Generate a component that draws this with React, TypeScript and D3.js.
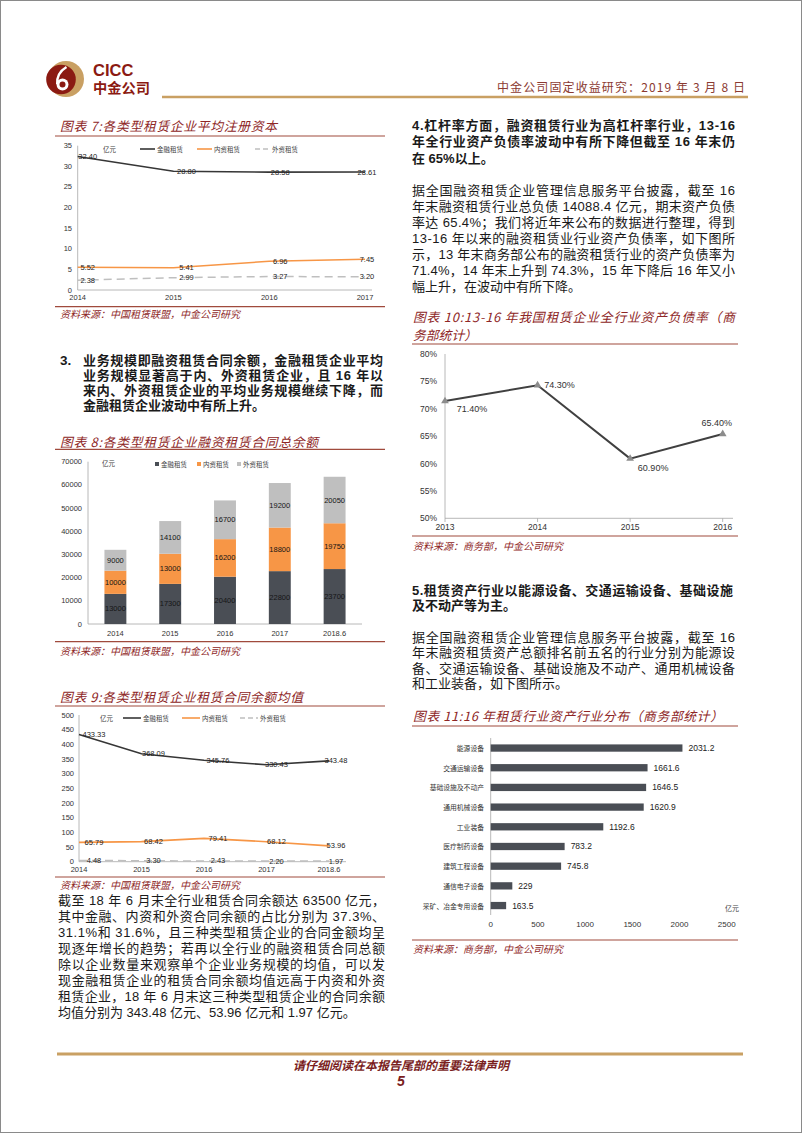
import React from 'react';
import * as d3 from 'd3';

// ---------------- data ----------------
const seriesNames = ['金融租赁', '内资租赁', '外资租赁'];

const years7 = ['2014', '2015', '2016', '2017'];
const finance7 = [32.4, 28.8, 28.58, 28.61];
const domestic7 = [5.52, 5.41, 6.96, 7.45];
const foreign7 = [2.38, 2.99, 3.27, 3.2];
const ticks7 = [0, 5, 10, 15, 20, 25, 30, 35];

const periods8 = ['2014', '2015', '2016', '2017', '2018.6'];
const finance8 = [13000, 17300, 20400, 22800, 23700];
const domestic8 = [10000, 13000, 16200, 18800, 19750];
const foreign8 = [9000, 14100, 16700, 19200, 20050];
const ticks8 = [0, 10000, 20000, 30000, 40000, 50000, 60000, 70000];

const periods9 = ['2014', '2015', '2016', '2017', '2018.6'];
const finance9 = [433.33, 368.09, 345.76, 330.43, 343.48];
const domestic9 = [65.79, 68.42, 79.41, 68.12, 53.96];
const foreign9 = [4.48, 3.3, 2.43, 2.2, 1.97];
const ticks9 = [0, 50, 100, 150, 200, 250, 300, 350, 400, 450, 500];

const years10 = ['2013', '2014', '2015', '2016'];
const ratio10 = [71.4, 74.3, 60.9, 65.4];
const ticks10 = [50, 55, 60, 65, 70, 75, 80];

const industries11 = ['能源设备', '交通运输设备', '基础设施及不动产', '通用机械设备', '工业装备', '医疗制药设备', '建筑工程设备', '通信电子设备', '采矿、冶金专用设备'];
const assets11 = [2031.2, 1661.6, 1646.5, 1620.9, 1192.6, 783.2, 745.8, 229, 163.5];
const ticks11 = [0, 500, 1000, 1500, 2000, 2500];

// ---------------- text ----------------
const sec3 = ['业务规模即融资租赁合同余额，金融租赁企业平均', '业务规模显著高于内、外资租赁企业，且 16 年以', '来内、外资租赁企业的平均业务规模继续下降，而', '金融租赁企业波动中有所上升。'];
const paraLeft = [
  '截至 18 年 6 月末全行业租赁合同余额达 63500 亿元，',
  '其中金融、内资和外资合同余额的占比分别为 37.3%、',
  '31.1%和 31.6%，且三种类型租赁企业的合同金额均呈',
  '现逐年增长的趋势；若再以全行业的融资租赁合同总额',
  '除以企业数量来观察单个企业业务规模的均值，可以发',
  '现金融租赁企业的租赁合同余额均值远高于内资和外资',
  '租赁企业，18 年 6 月末这三种类型租赁企业的合同余额',
  '均值分别为 343.48 亿元、53.96 亿元和 1.97 亿元。',
];
const sec4 = ['4.杠杆率方面，融资租赁行业为高杠杆率行业，13-16', '年全行业资产负债率波动中有所下降但截至 16 年末仍', '在 65%以上。'];
const para4 = [
  '据全国融资租赁企业管理信息服务平台披露，截至 16',
  '年末融资租赁行业总负债 14088.4 亿元，期末资产负债',
  '率达 65.4%；我们将近年来公布的数据进行整理，得到',
  '13-16 年以来的融资租赁业行业资产负债率，如下图所',
  '示，13 年末商务部公布的融资租赁行业的资产负债率为',
  '71.4%，14 年末上升到 74.3%，15 年下降后 16 年又小',
  '幅上升，在波动中有所下降。',
];
const sec5 = ['5.租赁资产行业以能源设备、交通运输设备、基础设施', '及不动产等为主。'];
const para5 = [
  '据全国融资租赁企业管理信息服务平台披露，截至 16',
  '年末融资租赁资产总额排名前五名的行业分别为能源设',
  '备、交通运输设备、基础设施及不动产、通用机械设备',
  '和工业装备，如下图所示。',
];

// ---------------- style ----------------
const BODY = "'Liberation Sans','Noto Sans CJK SC',sans-serif";
const CJK = "'Noto Sans CJK SC',sans-serif";
const AX = "'Liberation Sans',Arial,sans-serif";
const RED = '#8E2626';
const RULE = '#A04A3C';
const GOLD = '#C9A063';
const C_FIN = '#363636';
const C_DOM = '#F79646';
const C_FOR = '#BFBFBF';
const C_BAR = '#4A4E55';
const AXIS = '#A6A6A6';

type TP = { x: number; y: number; children: any; size?: number; anchor?: string; weight?: number | string; fill?: string; italic?: boolean; len?: number; family?: string; adjust?: string };
const T = ({ x, y, children, size = 13, anchor = 'start', weight = 400, fill = '#1a1a1a', italic = false, len, family = BODY, adjust = 'spacing' }: TP) => (
  <text x={x} y={y} fontSize={size} textAnchor={anchor as any} fontWeight={weight} fill={fill} fontStyle={italic ? 'italic' : 'normal'} dominantBaseline="central" fontFamily={family} {...(len ? { textLength: len, lengthAdjust: adjust } : {})}>
    {children}
  </text>
);

const Title = ({ x, y, text, len, ruleY, x1, x2 }: any) => (
  <g>
    <T x={x} y={y} size={12.8} italic fill={RED} len={len} family={CJK}>{text}</T>
    <line x1={x1} x2={x2} y1={ruleY} y2={ruleY} stroke={RULE} strokeWidth={1.2} />
  </g>
);
const Source = ({ x, y, text, ruleY, x1, x2 }: any) => (
  <g>
    <line x1={x1} x2={x2} y1={ruleY} y2={ruleY} stroke={RULE} strokeWidth={1.2} />
    <T x={x} y={y} size={10} italic fill={RED} family={CJK}>{text}</T>
  </g>
);

// ---------------- charts ----------------
function LineChart({ cats, series, ticks, xr, yr, yd, labelDx, legend, axisEnd, tickX, catY }: any) {
  const x = d3.scalePoint<string>().domain(cats).range(xr);
  const y = d3.scaleLinear().domain(yd).range(yr);
  const line = d3.line<number>().x((_, i) => x(cats[i])!).y((d) => y(d));
  return (
    <g>
      <line x1={xr[0]} x2={xr[0]} y1={yr[0]} y2={yr[1]} stroke={AXIS} strokeWidth={0.8} />
      <line x1={xr[0]} x2={axisEnd} y1={yr[0]} y2={yr[0]} stroke={AXIS} strokeWidth={0.8} />
      {ticks.map((t: number) => (
        <T key={t} x={tickX} y={y(t)} size={7.5} anchor="end" fill="#333" family={AX}>{t}</T>
      ))}
      {cats.map((c: string) => (
        <T key={c} x={x(c)!} y={catY} size={7.5} anchor="middle" fill="#333" family={AX}>{c}</T>
      ))}
      {series.map((s: any, k: number) => (
        <path key={k} d={line(s.vals)!} fill="none" stroke={s.color} strokeWidth={s.width} strokeDasharray={s.dash || undefined} />
      ))}
      {series.map((s: any, k: number) =>
        s.vals.map((v: number, i: number) => (
          <T key={k + '-' + i} x={x(cats[i])! + labelDx[i]} y={y(v)} size={7.5} anchor="middle" fill="#222" family={AX}>{v.toFixed(2)}</T>
        ))
      )}
      <T x={legend.unitX} y={legend.y} size={6.5} fill="#444" family={CJK}>亿元</T>
      {series.map((s: any, k: number) => (
        <g key={'lg' + k}>
          <line x1={legend.xs[k]} x2={legend.xs[k] + legend.len} y1={legend.y} y2={legend.y} stroke={s.color} strokeWidth={s.width} strokeDasharray={s.dash ? '5,3' : undefined} />
          <T x={legend.xs[k] + legend.len + 2} y={legend.y} size={6.5} fill="#444" family={CJK}>{seriesNames[k]}</T>
        </g>
      ))}
    </g>
  );
}

function Chart8() {
  const x = d3.scaleBand<string>().domain(periods8).range([88, 362]).paddingInner(0.6).paddingOuter(0.3);
  const y = d3.scaleLinear().domain([0, 70000]).range([624, 461.7]);
  const rows = periods8.map((p, i) => ({ p, a: finance8[i], b: domestic8[i], c: foreign8[i] }));
  const stack = d3.stack<any>().keys(['a', 'b', 'c'])(rows);
  const colors = [C_BAR, C_DOM, C_FOR];
  const legendX = [155, 197, 237];
  return (
    <g>
      <line x1={88} x2={88} y1={624} y2={461.7} stroke={AXIS} strokeWidth={0.8} />
      <line x1={88} x2={362} y1={624} y2={624} stroke={AXIS} strokeWidth={0.8} />
      {ticks8.map((t) => (
        <T key={t} x={82} y={y(t)} size={7.5} anchor="end" fill="#333" family={AX}>{t}</T>
      ))}
      {periods8.map((p) => (
        <T key={p} x={x(p)! + x.bandwidth() / 2} y={633} size={7.5} anchor="middle" fill="#333" family={AX}>{p}</T>
      ))}
      {stack.map((layer, k) =>
        layer.map((d: any, i: number) => (
          <g key={k + '-' + i}>
            <rect x={x(d.data.p)!} width={x.bandwidth()} y={y(d[1])} height={y(d[0]) - y(d[1])} fill={colors[k]} />
            <T x={x(d.data.p)! + x.bandwidth() / 2} y={y((d[0] + d[1]) / 2)} size={7.5} anchor="middle" fill="#151515" family={AX}>{d[1] - d[0]}</T>
          </g>
        ))
      )}
      <T x={102} y={463} size={6.5} fill="#444" family={CJK}>亿元</T>
      {seriesNames.map((n, k) => (
        <g key={n}>
          <rect x={legendX[k]} y={462} width={4} height={4} fill={colors[k]} />
          <T x={legendX[k] + 6} y={464} size={6.5} fill="#444" family={CJK}>{n}</T>
        </g>
      ))}
    </g>
  );
}

function Chart10() {
  const x = d3.scalePoint<string>().domain(years10).range([445, 722.7]);
  const y = d3.scaleLinear().domain([50, 80]).range([518.3, 354]);
  const line = d3.line<number>().x((_, i) => x(years10[i])!).y((d) => y(d));
  const tri = d3.symbol().type(d3.symbolTriangle).size(26)();
  const labelPos = [[27, 8], [22, 0], [23, 9], [-6, -11]];
  return (
    <g>
      <line x1={445} x2={445} y1={518.3} y2={354} stroke={AXIS} strokeWidth={0.8} />
      <line x1={445} x2={733} y1={518.3} y2={518.3} stroke={AXIS} strokeWidth={0.8} />
      {years10.map((c) => (
        <line key={'tk' + c} x1={x(c)!} x2={x(c)!} y1={518.3} y2={522} stroke={AXIS} strokeWidth={0.8} />
      ))}
      {ticks10.map((t) => (
        <T key={t} x={437} y={y(t)} size={8.5} anchor="end" fill="#333" family={AX}>{t + '%'}</T>
      ))}
      {years10.map((c) => (
        <T key={c} x={x(c)!} y={527} size={8.5} anchor="middle" fill="#333" family={AX}>{c}</T>
      ))}
      <path d={line(ratio10)!} fill="none" stroke="#404040" strokeWidth={2} />
      {ratio10.map((v, i) => (
        <g key={i}>
          <path d={tri!} transform={`translate(${x(years10[i])},${y(v)})`} fill="#8C8C8C" />
          <T x={x(years10[i])! + labelPos[i][0]} y={y(v) + labelPos[i][1]} size={9} anchor="middle" fill="#333" family={AX}>{v.toFixed(2) + '%'}</T>
        </g>
      ))}
    </g>
  );
}

function Chart11() {
  const y = d3.scaleBand<string>().domain(industries11).range([738.2, 915.4]).paddingInner(0.63).paddingOuter(0.315);
  const x = d3.scaleLinear().domain([0, 2500]).range([490.7, 726.7]);
  return (
    <g>
      <line x1={490.7} x2={490.7} y1={738} y2={915} stroke={AXIS} strokeWidth={0.8} />
      {ticks11.map((t) => (
        <T key={t} x={x(t)} y={924} size={8} anchor="middle" fill="#333" family={AX}>{t}</T>
      ))}
      {industries11.map((c, i) => (
        <g key={c}>
          <rect x={x(0)} y={y(c)!} width={x(assets11[i]) - x(0)} height={y.bandwidth()} fill={C_BAR} />
          <T x={484} y={y(c)! + y.bandwidth() / 2} size={6.8} anchor="end" fill="#333" family={CJK}>{c}</T>
          <T x={x(assets11[i]) + 6} y={y(c)! + y.bandwidth() / 2} size={8.5} fill="#222" family={AX}>{String(assets11[i])}</T>
        </g>
      ))}
      <T x={725} y={908} size={7} fill="#444" family={CJK}>亿元</T>
    </g>
  );
}

function Logo() {
  return (
    <g>
      <circle cx={66} cy={79} r={18} fill={GOLD} />
      <circle cx={61} cy={79.5} r={14.8} fill="#8B1A12" />
      <circle cx={62.5} cy={84.5} r={6} fill="#fff" />
      <circle cx={62.5} cy={84.5} r={3} fill="#8B1A12" />
      <path d="M57.2 84 Q56.5 73 66.5 67" fill="none" stroke="#fff" strokeWidth={2.4} />
      <T x={93} y={70} size={16.5} weight={700} fill="#8B1A12" family={AX}>CICC</T>
      <T x={93} y={87} size={14} weight={700} fill="#8B1A12" family={CJK} len={57} adjust="spacingAndGlyphs">中金公司</T>
    </g>
  );
}

export default function App() {
  return (
    <div style={{ position: 'absolute', left: 0, top: 0 }}>
      <svg width={802} height={1133} viewBox="0 0 802 1133" style={{ display: 'block', background: '#fff' }}>
        <rect x={0.5} y={0.5} width={801} height={1132} fill="#fff" stroke="#8a8a8a" strokeWidth={1} />
        <Logo />
        <T x={745} y={86} size={12} anchor="end" fill="#8B3A32" family={CJK} len={248}>中金公司固定收益研究：2019 年 3 月 8 日</T>
        <line x1={162} x2={748} y1={97} y2={97} stroke={GOLD} strokeWidth={2.5} />

        {/* Chart 7 */}
        <Title x={60} y={125} text="图表 7:各类型租赁企业平均注册资本" len={217} ruleY={136} x1={55} x2={385} />
        <LineChart
          cats={years7}
          series={[
            { vals: finance7, color: C_FIN, width: 1.6 },
            { vals: domestic7, color: C_DOM, width: 1.6 },
            { vals: foreign7, color: C_FOR, width: 1.5, dash: '8,5' },
          ]}
          ticks={ticks7}
          xr={[77.7, 365]}
          yr={[290, 145.7]}
          yd={[0, 35]}
          labelDx={[10, 13, 11, 2]}
          legend={{ unitX: 103, y: 149, xs: [140, 197, 255], len: 15 }}
          axisEnd={372}
          tickX={72}
          catY={297}
        />
        <Source x={60} y={313} text="资料来源：中国租赁联盟，中金公司研究" ruleY={306.7} x1={55} x2={385} />

        {/* Section 3 */}
        <T x={60} y={360} size={13.5} weight={700} family={AX}>3.</T>
        {sec3.map((s, i) => (
          <T key={i} x={83} y={360 + i * 15.2} size={13} weight={700} len={i < 3 ? 300 : undefined}>{s}</T>
        ))}

        {/* Chart 8 */}
        <Title x={60} y={441.7} text="图表 8:各类型租赁企业融资租赁合同总余额" len={258} ruleY={449.3} x1={55} x2={385} />
        <Chart8 />
        <Source x={60} y={650} text="资料来源：中国租赁联盟，中金公司研究" ruleY={641.7} x1={55} x2={385} />

        {/* Chart 9 */}
        <Title x={60} y={696.7} text="图表 9:各类型租赁企业租赁合同余额均值" len={243} ruleY={706} x1={55} x2={385} />
        <LineChart
          cats={periods9}
          series={[
            { vals: finance9, color: C_FIN, width: 1.6 },
            { vals: domestic9, color: C_DOM, width: 1.6 },
            { vals: foreign9, color: C_FOR, width: 1.5, dash: '8,5' },
          ]}
          ticks={ticks9}
          xr={[79, 329]}
          yr={[861.7, 715]}
          yd={[0, 500]}
          labelDx={[15, 12, 14, 10, 7]}
          legend={{ unitX: 100, y: 718, xs: [123, 182, 240], len: 18 }}
          axisEnd={346}
          tickX={74}
          catY={869.5}
        />
        <Source x={60} y={884} text="资料来源：中国租赁联盟，中金公司研究" ruleY={877} x1={55} x2={385} />

        {paraLeft.map((s, i) => (
          <T key={i} x={58} y={900 + i * 16.1} size={13} len={i < 7 ? 327 : undefined}>{s}</T>
        ))}

        {/* Section 4 */}
        {sec4.map((s, i) => (
          <T key={i} x={412} y={125 + i * 16.7} size={13} weight={700} len={i < 2 ? 323 : undefined}>{s}</T>
        ))}
        {para4.map((s, i) => (
          <T key={i} x={412} y={190 + i * 16} size={13} len={i < 6 ? 323 : undefined}>{s}</T>
        ))}

        {/* Chart 10 */}
        <T x={413} y={316} size={12.8} italic fill={RED} family={CJK} len={322}>图表 10:13-16 年我国租赁企业全行业资产负债率（商</T>
        <T x={413} y={334} size={12.8} italic fill={RED} family={CJK}>务部统计）</T>
        <line x1={412} x2={738} y1={344} y2={344} stroke={RULE} strokeWidth={1.2} />
        <Chart10 />
        <Source x={413} y={545} text="资料来源：商务部，中金公司研究" ruleY={536} x1={412} x2={738} />

        {/* Section 5 */}
        {sec5.map((s, i) => (
          <T key={i} x={412} y={590 + i * 15.5} size={13} weight={700} len={i < 1 ? 321 : undefined}>{s}</T>
        ))}
        {para5.map((s, i) => (
          <T key={i} x={412} y={637 + i * 15.5} size={13} len={i < 3 ? 323 : undefined}>{s}</T>
        ))}

        {/* Chart 11 */}
        <Title x={413} y={715} text="图表 11:16 年租赁行业资产行业分布（商务部统计）" len={310} ruleY={726} x1={412} x2={738} />
        <Chart11 />
        <Source x={413} y={948} text="资料来源：商务部，中金公司研究" ruleY={940} x1={412} x2={738} />

        {/* Footer */}
        <line x1={57} x2={743} y1={1054} y2={1054} stroke={GOLD} strokeWidth={3} />
        <T x={401} y={1064} size={12} anchor="middle" italic weight={700} fill="#7A1E1E" family={CJK}>请仔细阅读在本报告尾部的重要法律声明</T>
        <T x={401} y={1081} size={14} anchor="middle" italic weight={700} fill="#7A1E1E" family={AX}>5</T>
      </svg>
    </div>
  );
}
